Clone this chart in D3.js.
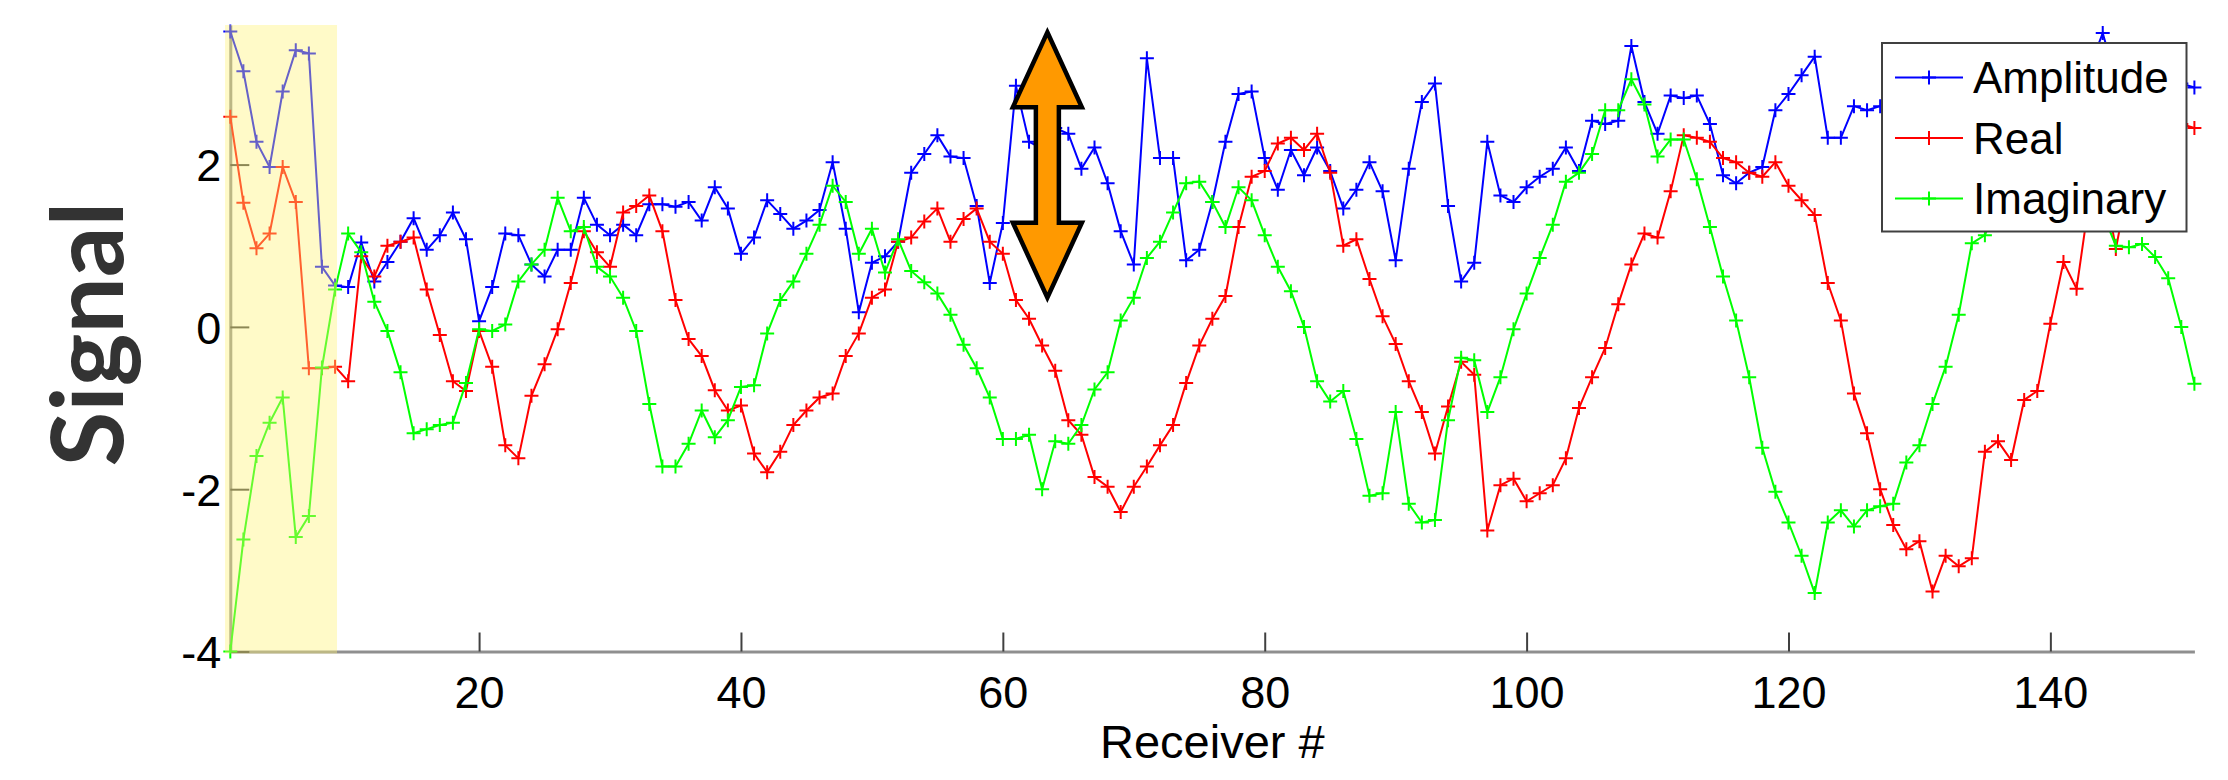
<!DOCTYPE html>
<html>
<head>
<meta charset="utf-8">
<script src="https://cdn.jsdelivr.net/npm/d3@7"></script>
<style>
  html, body { margin: 0; padding: 0; background: #fff; }
  svg { display: block; }
</style>
</head>
<body>
<div id="chart"></div>
<script>
// Signal per receiver (receivers 1..151)
const amplitude = [
  3.64, 3.15, 2.28, 1.97, 2.9, 3.41, 3.37, 0.74, 0.51, 0.49,
  1.04, 0.56, 0.8, 1.05, 1.34, 0.95, 1.13, 1.41, 1.08, 0.07,
  0.49, 1.15, 1.13, 0.77, 0.62, 0.95, 0.95, 1.59, 1.26, 1.13,
  1.26, 1.13, 1.51, 1.51, 1.48, 1.54, 1.31, 1.72, 1.46, 0.9,
  1.1, 1.56, 1.39, 1.21, 1.31, 1.44, 2.03, 1.21, 0.18, 0.79,
  0.87, 1.05, 1.9, 2.13, 2.36, 2.1, 2.08, 1.49, 0.54, 1.28,
  2.97, 2.28, 2.2, 2.45, 2.38, 1.95, 2.21, 1.77, 1.18, 0.77,
  3.31, 2.08, 2.08, 0.82, 0.95, 1.54, 2.28, 2.87, 2.9, 2.08,
  1.69, 2.18, 1.87, 2.21, 1.92, 1.46, 1.69, 2.03, 1.67, 0.82,
  1.95, 2.77, 3.0, 1.49, 0.56, 0.79, 2.28, 1.62, 1.54, 1.72,
  1.85, 1.95, 2.21, 1.92, 2.54, 2.5, 2.54, 3.46, 2.77, 2.38,
  2.85, 2.82, 2.85, 2.5, 1.87, 1.77, 1.9, 1.97, 2.67, 2.87,
  3.1, 3.33, 2.33, 2.33, 2.72, 2.67, 2.72, 2.8, 2.9, 3.05,
  3.2, 2.95, 3.0, 3.1, 2.7, 2.55, 2.65, 2.9, 3.1, 3.0,
  2.8, 3.15, 3.2, 3.62, 3.05, 2.8, 2.9, 3.1, 2.95, 3.0, 2.95
];
const realPart = [
  2.59, 1.53, 0.97, 1.15, 1.97, 1.54, -0.51, -0.51, -0.49, -0.67,
  0.87, 0.62, 1.0, 1.05, 1.1, 0.46, -0.1, -0.67, -0.79, -0.05,
  -0.49, -1.46, -1.62, -0.85, -0.46, -0.03, 0.54, 1.18, 0.92, 0.74,
  1.41, 1.49, 1.62, 1.18, 0.33, -0.15, -0.36, -0.78, -1.03, -0.97,
  -1.56, -1.79, -1.54, -1.21, -1.03, -0.87, -0.82, -0.36, -0.08, 0.36,
  0.46, 1.05, 1.1, 1.3, 1.46, 1.05, 1.33, 1.46, 1.05, 0.9,
  0.33, 0.1, -0.23, -0.54, -1.15, -1.33, -1.85, -1.97, -2.28, -1.97,
  -1.72, -1.46, -1.21, -0.69, -0.23, 0.1, 0.38, 1.23, 1.85, 1.92,
  2.26, 2.33, 2.18, 2.38, 1.9, 1.0, 1.08, 0.59, 0.13, -0.21,
  -0.67, -1.05, -1.56, -0.98, -0.43, -0.59, -2.51, -1.95, -1.87, -2.15,
  -2.05, -1.95, -1.62, -1.0, -0.62, -0.26, 0.28, 0.77, 1.15, 1.1,
  1.67, 2.36, 2.33, 2.28, 2.08, 2.03, 1.9, 1.85, 2.03, 1.74,
  1.56, 1.38, 0.54, 0.08, -0.82, -1.31, -2.0, -2.44, -2.74, -2.64,
  -3.26, -2.82, -2.95, -2.85, -1.54, -1.41, -1.64, -0.9, -0.79, 0.04,
  0.8, 0.47, 1.6, 1.9, 0.96, 1.8, 2.2, 2.5, 2.6, 2.5, 2.45
];
const imaginary = [
  -4.0, -2.62, -1.59, -1.18, -0.87, -2.59, -2.33, -0.5, 0.46, 1.15,
  0.92, 0.31, -0.05, -0.56, -1.31, -1.26, -1.21, -1.18, -0.69, -0.03,
  -0.05, 0.03, 0.56, 0.77, 0.95, 1.59, 1.18, 1.23, 0.74, 0.62,
  0.36, -0.05, -0.95, -1.72, -1.72, -1.44, -1.03, -1.36, -1.15, -0.74,
  -0.72, -0.08, 0.33, 0.56, 0.9, 1.26, 1.74, 1.54, 0.9, 1.21,
  0.67, 1.08, 0.69, 0.55, 0.41, 0.15, -0.22, -0.51, -0.87, -1.38,
  -1.38, -1.33, -2.0, -1.41, -1.44, -1.21, -0.77, -0.56, 0.08, 0.36,
  0.85, 1.05, 1.41, 1.77, 1.79, 1.54, 1.23, 1.72, 1.56, 1.13,
  0.74, 0.44, 0.0, -0.67, -0.92, -0.79, -1.38, -2.08, -2.05, -1.05,
  -2.18, -2.41, -2.38, -1.15, -0.38, -0.41, -1.05, -0.62, -0.03, 0.41,
  0.85, 1.26, 1.79, 1.9, 2.13, 2.67, 2.67, 3.05, 2.74, 2.1,
  2.31, 2.31, 1.82, 1.23, 0.62, 0.08, -0.62, -1.49, -2.03, -2.41,
  -2.82, -3.28, -2.41, -2.26, -2.46, -2.26, -2.21, -2.18, -1.67, -1.46,
  -0.95, -0.49, 0.15, 1.03, 1.13, 1.5, 1.9, 2.3, 2.5, 2.6,
  2.5, 2.2, 1.8, 1.4, 1.0, 0.98, 1.02, 0.86, 0.6, 0.0, -0.7
];
const receivers = d3.range(1, amplitude.length + 1);
const seriesNames = ['Amplitude', 'Real', 'Imaginary'];
const xTicks = [20, 40, 60, 80, 100, 120, 140];
const yTicks = [-4, -2, 0, 2];
// annotations, in data units
const highlightRange = [0.6, 9.15];
const arrowSpan = { x: 63.4, from: 0.36, to: 3.63 };

const W = 2228, H = 780;
const plot = { left: 230.3, right: 2194.4, top: 25, bottom: 651.5 };
const colors = ['#0000ff', '#ff0000', '#00ff00'];
const labelFont = '"Liberation Sans", Arial, sans-serif';

const svg = d3.select('#chart').append('svg')
  .attr('width', W)
  .attr('height', H);

const x = d3.scaleLinear().domain([1, 151]).range([plot.left, plot.right]);
const y = d3.scaleLinear().domain([-4, 3.72]).range([plot.bottom, plot.top]);

// Axes (MATLAB style: ticks point inward, no box)
const xAxis = svg.append('g')
  .attr('transform', `translate(0,${plot.bottom})`)
  .call(d3.axisBottom(x).tickValues(xTicks).tickSizeInner(-19).tickSizeOuter(0));
xAxis.selectAll('text')
  .attr('y', 56).attr('dy', null)
  .style('font-family', labelFont)
  .style('font-size', '45px')
  .attr('fill', '#000');

const yAxis = svg.append('g')
  .attr('transform', `translate(${plot.left},0)`)
  .call(d3.axisLeft(y).tickValues(yTicks).tickFormat(d => String(d))
    .tickSizeInner(-19).tickSizeOuter(0).tickPadding(9));
yAxis.selectAll('text')
  .attr('x', -9).attr('dy', '0.36em')
  .style('font-family', labelFont)
  .style('font-size', '45px')
  .attr('fill', '#000');

svg.selectAll('.domain').attr('stroke', '#8f8f8f').attr('stroke-width', 3);
svg.selectAll('.tick line').attr('stroke', '#404040').attr('stroke-width', 2);

// Series lines with + markers
const seriesData = [amplitude, realPart, imaginary];
const line = d3.line()
  .x((d, i) => x(receivers[i]))
  .y(d => y(d));

seriesData.forEach((vals, k) => {
  const g = svg.append('g');
  g.append('path')
    .datum(vals)
    .attr('d', line)
    .attr('fill', 'none')
    .attr('stroke', colors[k])
    .attr('stroke-width', 2);
  g.selectAll('path.mark')
    .data(vals)
    .enter()
    .append('path')
    .attr('class', 'mark')
    .attr('d', 'M-7,0H7M0,-7V7')
    .attr('transform', (d, i) => `translate(${x(receivers[i])},${y(d)})`)
    .attr('stroke', colors[k])
    .attr('stroke-width', 2)
    .attr('fill', 'none');
});

// Yellow highlight laid over the first receivers
svg.append('rect')
  .attr('x', x(highlightRange[0]))
  .attr('y', plot.top)
  .attr('width', x(highlightRange[1]) - x(highlightRange[0]))
  .attr('height', plot.bottom - plot.top + 2)
  .attr('fill', '#fff276')
  .attr('opacity', 0.4);

// Orange double-headed arrow
const ax = x(arrowSpan.x), yT = y(arrowSpan.to), yB = y(arrowSpan.from);
const hw = 34.5, hl = 75, sw = 11.5;
const arrowPts = [
  [ax, yT], [ax + hw, yT + hl], [ax + sw, yT + hl], [ax + sw, yB - hl],
  [ax + hw, yB - hl], [ax, yB], [ax - hw, yB - hl], [ax - sw, yB - hl],
  [ax - sw, yT + hl], [ax - hw, yT + hl]
];
svg.append('polygon')
  .attr('points', arrowPts.map(p => p.join(',')).join(' '))
  .attr('fill', '#ff9900')
  .attr('stroke', '#000')
  .attr('stroke-width', 4.5)
  .attr('stroke-linejoin', 'miter');

// Legend
const legend = svg.append('g').attr('transform', 'translate(1882,43)');
legend.append('rect')
  .attr('width', 304.5)
  .attr('height', 188.5)
  .attr('fill', '#fff')
  .attr('stroke', '#404040')
  .attr('stroke-width', 2);
seriesNames.forEach((name, k) => {
  const ly = 34.5 + k * 60.5;
  legend.append('line')
    .attr('x1', 13).attr('x2', 81)
    .attr('y1', ly).attr('y2', ly)
    .attr('stroke', colors[k])
    .attr('stroke-width', 2);
  legend.append('path')
    .attr('d', 'M-7,0H7M0,-7V7')
    .attr('transform', `translate(47,${ly})`)
    .attr('stroke', colors[k])
    .attr('stroke-width', 2);
  legend.append('text')
    .attr('x', 91)
    .attr('y', ly + 15.5)
    .style('font-family', labelFont)
    .style('font-size', '44px')
    .attr('fill', '#000')
    .text(name);
});

// Axis labels
svg.append('text')
  .attr('x', (plot.left + plot.right) / 2)
  .attr('y', 758)
  .attr('text-anchor', 'middle')
  .style('font-family', labelFont)
  .style('font-size', '47px')
  .attr('fill', '#000')
  .text('Receiver #');

svg.append('text')
  .attr('transform', 'translate(123,334) rotate(-90)')
  .attr('text-anchor', 'middle')
  .style('font-family', 'Lato, sans-serif')
  .style('font-weight', 700)
  .style('font-size', '100px')
  .attr('fill', '#333')
  .text('Signal');
</script>
</body>
</html>
